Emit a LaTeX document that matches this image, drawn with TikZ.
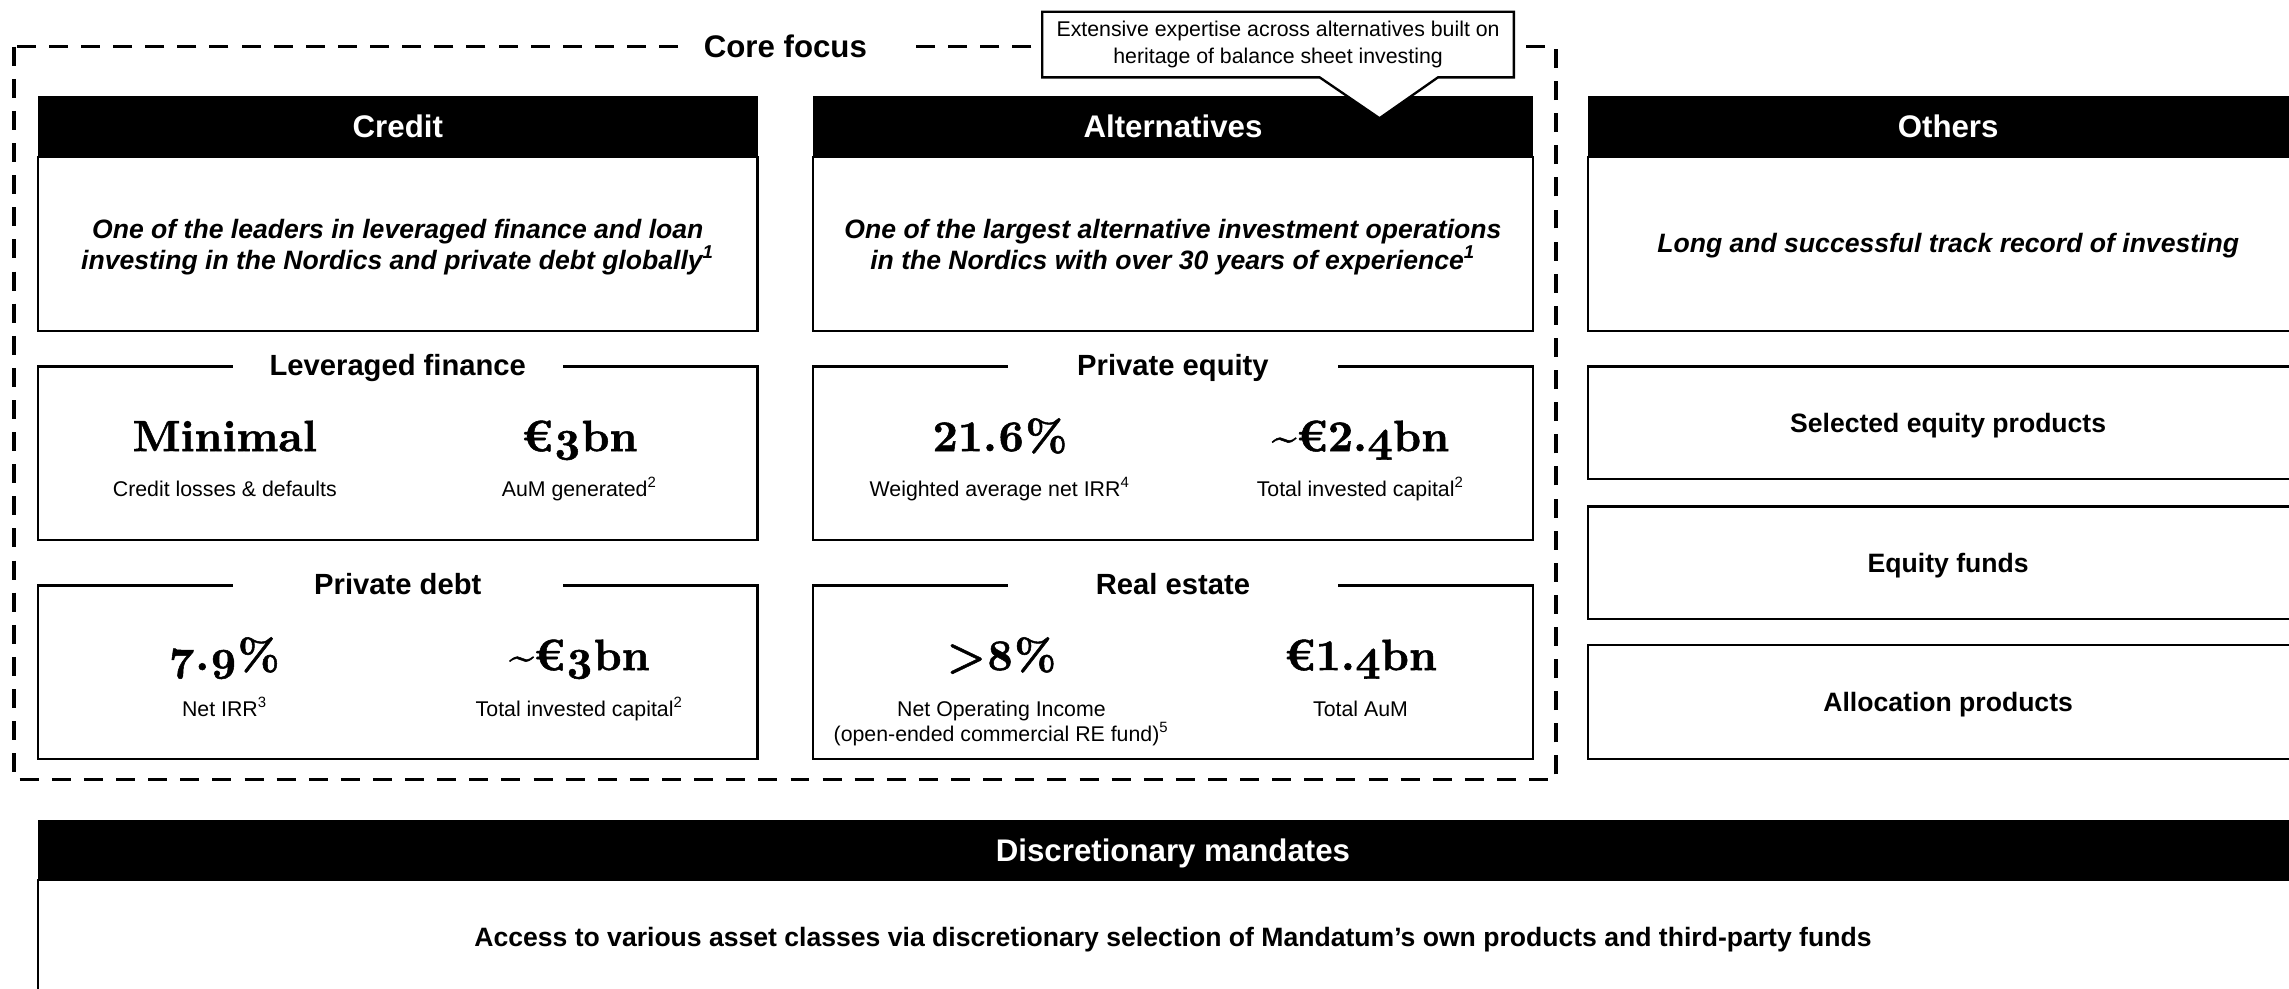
\documentclass[tikz,border=0pt]{standalone}
\usepackage{fontspec}
\setmainfont{Liberation Sans}
\newfontfamily\numfont[Numbers=OldStyle,FakeBold=1.2]{lmroman10-bold.otf}
\newfontfamily\numlin[FakeBold=1.2]{lmroman10-bold.otf}
\newcommand\lindig[1]{{\numlin #1}}
\begin{document}
\begin{tikzpicture}[x=0.5pt,y=-0.5pt,
  hdr/.style={fill=black,text=white,inner sep=0pt,minimum width=246.5pt,minimum height=20.5pt,
    font=\fontsize{10.7}{12}\selectfont\bfseries,text height=7.7pt,text depth=0pt},
  descbox/.style={draw=black,line width=0.8pt,fill=white,inner sep=0pt,minimum width=246.5pt,minimum height=59.5pt},
  desctext/.style={inner sep=0pt,align=center,font=\fontsize{9.1}{10.6}\selectfont\bfseries\itshape},
  secbox/.style={draw=black,line width=0.8pt,inner sep=0pt,minimum width=246.5pt,minimum height=59.5pt},
  sectitle/.style={fill=white,inner xsep=0pt,inner ysep=2pt,minimum width=113pt,
    font=\fontsize{10}{12}\selectfont\bfseries,text height=7.2pt,text depth=0pt},
  num/.style={anchor=base,inner sep=0pt,font=\numfont\fontsize{15}{18}\selectfont},
  lab/.style={anchor=base,inner sep=0pt,align=center,font=\fontsize{7.3}{8.5}\selectfont},
  obox/.style={draw=black,line width=0.8pt,inner sep=0pt,minimum width=246.5pt,
    font=\fontsize{9.1}{10}\selectfont\bfseries,text height=6.5pt,text depth=0pt},
  corefr/.style={line width=1.2pt,dash pattern=on 6.5pt off 4.5pt},
  calloutbox/.style={draw=black,line width=0.8pt,fill=white},
  callouttext/.style={inner sep=0pt,align=center,font=\fontsize{7.3}{9.5}\selectfont}
]
\clip (0,0) rectangle (1568,677);
\fill[white] (0,0) rectangle (1568,677);

% core focus frame
\draw[corefr] (9.5,32) rectangle (1066,534);
\fill[white] (468,24) rectangle (622,40);
\node[inner sep=0pt,font=\fontsize{10.7}{12}\selectfont\bfseries,text height=7.7pt,text depth=0pt] (core) at (538,32) {Core focus};

% column headers
\node[hdr] (credH) at (272.5,86.5) {Credit};
\node[hdr] (altH) at (803.5,86.5) {Alternatives};
\node[hdr] (othH) at (1334.5,86.5) {Others};

% descriptions
\node[descbox] (credD) at (272.5,167) {};
\node[desctext] (credDT) at (272.5,169.5) {One of the leaders in leveraged finance and loan\\investing in the Nordics and private debt globally\textsuperscript{1}};
\node[descbox] (altD) at (803.5,167) {};
\node[desctext] (altDT) at (803.5,169.5) {One of the largest alternative investment operations\\in the Nordics with over 30 years of experience\textsuperscript{1}};
\node[descbox] (othD) at (1334.5,167) {};
\node[desctext] (othDT) at (1334.5,168.5) {Long and successful track record of investing};

% section boxes
\node[secbox] (lev) at (272.5,310.5) {};
\node[sectitle] (levT) at (lev.north) {Leveraged finance};
\node[num] (levN1) at (154,309) {Minimal};
\node[num] (levN2) at (397,309) {€3bn};
\node[lab] (levL1) at (154,340) {Credit losses \& defaults};
\node[lab] (levL2) at (397,340) {AuM generated\textsuperscript{2}};

\node[secbox] (pd) at (272.5,460.5) {};
\node[sectitle] (pdT) at (pd.north) {Private debt};
\node[num] (pdN1) at (154,459) {7.9\%};
\node[num] (pdN2) at (397,459) {\textasciitilde€3bn};
\node[lab] (pdL1) at (154,491) {Net IRR\textsuperscript{3}};
\node[lab] (pdL2) at (397,491) {Total invested capital\textsuperscript{2}};

\node[secbox] (pe) at (803.5,310.5) {};
\node[sectitle] (peT) at (pe.north) {Private equity};
\node[num] (peN1) at (685,309) {\lindig{21}.6\%};
\node[num] (peN2) at (932,309) {\textasciitilde€\lindig{2}.4bn};
\node[lab] (peL1) at (685,340) {Weighted average net IRR\textsuperscript{4}};
\node[lab] (peL2) at (932,340) {Total invested capital\textsuperscript{2}};

\node[secbox] (re) at (803.5,460.5) {};
\node[sectitle] (reT) at (re.north) {Real estate};
\node[num] (reN1) at (686,459) {>8\%};
\node[num] (reN2) at (932,459) {€\lindig{1}.4bn};
\node[lab] (reL1) at (686,508) {Net Operating Income\\(open-ended commercial RE fund)\textsuperscript{5}};
\node[lab] (reL2) at (932,491) {Total AuM};

% others
\node[obox,minimum height=38.5pt] (sel) at (1334.5,289.5) {Selected equity products};
\node[obox,minimum height=38.5pt] (eqf) at (1334.5,385.5) {Equity funds};
\node[obox,minimum height=39pt] (alloc) at (1334.5,481) {Allocation products};

% discretionary mandates
\node[hdr,minimum width=777.5pt] (discH) at (803.5,582.5) {Discretionary mandates};
\node[draw=black,line width=0.8pt,inner sep=0pt,minimum width=777.5pt,minimum height=50pt] (discB) at (803.5,653) {};
\node[inner sep=0pt,font=\fontsize{9.1}{10}\selectfont\bfseries,text height=6.5pt,text depth=0pt] (discT) at (803.5,642) {Access to various asset classes via discretionary selection of Mandatum’s own products and third-party funds};

% callout
\draw[calloutbox] (714,8) -- (1037,8) -- (1037,53) -- (985,53) -- (945,81) -- (904,53) -- (714,53) -- cycle;
\node[callouttext] (call) at (875.5,30.5) {Extensive expertise across alternatives built on\\heritage of balance sheet investing};
\end{tikzpicture}
\end{document}
